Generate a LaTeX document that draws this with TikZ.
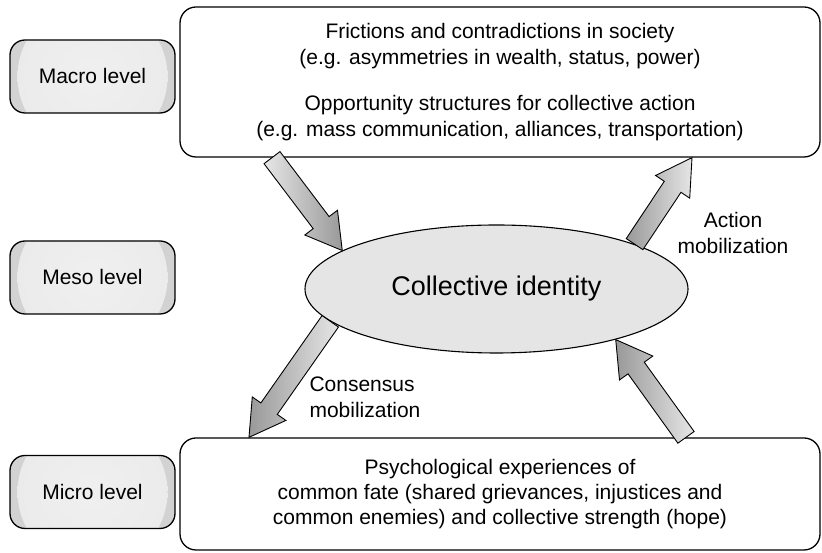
\documentclass[tikz,border=0pt]{standalone}
\usepackage{fontspec}
\setmainfont{Liberation Sans}
\usepackage{tikz}
\usetikzlibrary{positioning,calc,shapes.geometric}

% light disc inside the level boxes
\pgfdeclareradialshading{levelglow}{\pgfpoint{0bp}{0bp}}{%
  color(0bp)=(gray!12); color(38bp)=(gray!18); color(44bp)=(gray!34); color(50bp)=(gray!35)}

% block arrow from #2 (tail) to #3 (tip)
\newcommand\fatarrow[3][]{%
  \coordinate (tail) at (#2);
  \coordinate (tip) at (#3);
  \coordinate (neck) at ($(tip)!35pt!(tail)$);
  \path[fat arrow,#1] ($(tail)!10pt!90:(tip)$) -- ($(neck)!10pt!90:(tip)$)
    -- ($(neck)!20.5pt!90:(tip)$) -- (tip) -- ($(neck)!20.5pt!-90:(tip)$)
    -- ($(neck)!10pt!-90:(tip)$) -- ($(tail)!10pt!-90:(tip)$) -- cycle;}

\begin{document}
\begin{tikzpicture}[x=1pt,y=1pt,node distance=200pt,font=\fontsize{21}{26}\selectfont]
    \tikzstyle{level} = [rectangle, rounded corners=15pt,
minimum width=165pt,
minimum height=73pt,
draw=black, line width=1.3pt,
fill=gray!35,
path picture={\shade[shading=levelglow] (path picture bounding box.center) circle (75pt);}]

\tikzstyle{context} = [rectangle, rounded corners=16pt,
minimum width=640pt,
align=center,
draw=black, line width=1.3pt,
fill=white]

\tikzstyle{identity} = [ellipse,
minimum width=383pt,
minimum height=128pt,
inner sep=0pt,
draw=black, line width=1.1pt,
fill=gray!20,
font=\fontsize{27}{32}\selectfont]

\tikzstyle{fat arrow} = [draw=black, line width=0.9pt, line join=miter]
\tikzstyle{dark left} = [left color=gray!80, right color=gray!20]
\tikzstyle{dark right} = [left color=gray!20, right color=gray!80]

\useasboundingbox (0,0) rectangle (822,553);

\node (macro) [level] at (92.5,476.5) {Macro level};
\node (meso) [level, below of=macro, yshift=-1pt] {Meso level};
\node (micro) [level, below of=meso, yshift=-14.5pt] {Micro level};

\node (frictions) [context, minimum height=150pt, right of=macro, xshift=207.5pt, yshift=-5.5pt]
  {Frictions and contradictions in society\\
   (e.g. asymmetries in wealth, status, power)\\[20pt]
   Opportunity structures for collective action\\
   (e.g. mass communication, alliances, transportation)};
\node (experiences) [context, minimum height=112pt, right of=micro, xshift=207.5pt, yshift=-2pt,
  font=\fontsize{21}{25}\selectfont]
  {Psychological experiences of\\
   common fate (shared grievances, injustices and\\
   common enemies) and collective strength (hope)};

\node (ident) [identity, right of=meso, xshift=204pt, yshift=-11.5pt] {Collective identity};

\node (action) [align=center] at (733,320) {Action\\mobilization};
\node (consensus) [align=left, anchor=west] at (306,156) {Consensus\\mobilization};

\fatarrow[dark right]{[xshift=-228pt]frictions.south}{ident.166.9}
\fatarrow[dark left]{ident.18.7}{[xshift=192pt]frictions.south}
\fatarrow[dark left]{ident.191.2}{[xshift=-251pt]experiences.north}
\fatarrow[dark left]{[xshift=186pt]experiences.north}{ident.337.2}

\end{tikzpicture}
\end{document}
